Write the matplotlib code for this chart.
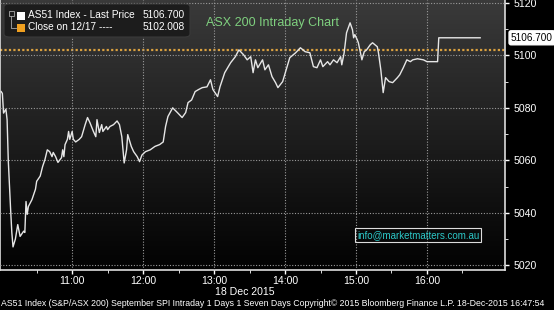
import numpy as np
import matplotlib.pyplot as plt
from matplotlib.patches import FancyBboxPatch, Rectangle
from matplotlib.lines import Line2D

# intraday prices, minutes after 10:00
mins = [0, 1, 2, 4, 5, 6, 8, 9, 10, 12, 14, 16, 19, 20, 21, 22, 23, 26, 29, 30,
        33, 35, 37, 39, 41, 43, 44, 46, 48, 51, 52, 53, 54, 56, 57, 58, 60, 61, 63, 66,
        68, 71, 73, 75, 78, 80, 81, 83, 85, 86, 89, 90, 92, 95, 98, 100, 102, 104, 106, 107,
        110, 112, 115, 117, 119, 122, 126, 130, 134, 137, 139, 141, 145, 149, 153, 156, 158, 161, 164, 167,
        170, 174, 177, 179, 183, 185, 189, 194, 198, 201, 205, 208, 211, 213, 215, 217, 221, 223, 226, 229,
        232, 234, 238, 241, 244, 249, 253, 257, 261, 264, 267, 270, 272, 276, 278, 281, 284, 287, 288, 290,
        292, 295, 297, 298, 299, 301, 302, 305, 307, 309, 312, 314, 318, 319, 321, 323, 325, 328, 331, 335,
        337, 340, 343, 346, 348, 352, 357, 360, 369, 370, 405]
price = [5086.2, 5085.5, 5078.0, 5079.5, 5075.5, 5060.0, 5041.0, 5032.5, 5027.0, 5030.0,
         5035.5, 5031.0, 5033.0, 5032.5, 5044.3, 5039.4, 5042.4, 5045.0, 5049.0, 5052.0,
         5054.0, 5057.6, 5060.3, 5064.0, 5063.3, 5061.4, 5063.0, 5061.4, 5059.2, 5061.0,
         5064.0, 5061.4, 5066.0, 5068.0, 5071.0, 5068.0, 5071.0, 5068.0, 5067.0, 5068.0,
         5069.0, 5073.6, 5076.3, 5074.4, 5071.0, 5069.0, 5075.5, 5070.6, 5073.6, 5071.0,
         5072.9, 5071.7, 5072.9, 5073.6, 5075.0, 5073.6, 5069.0, 5059.0, 5064.0, 5069.8,
         5065.3, 5063.3, 5061.4, 5059.5, 5062.0, 5063.3, 5064.0, 5065.3, 5066.0, 5067.0,
         5072.9, 5076.7, 5080.0, 5078.2, 5076.3, 5078.2, 5082.0, 5083.0, 5086.2, 5087.0,
         5087.7, 5088.0, 5090.7, 5087.0, 5084.3, 5088.0, 5093.4, 5097.2, 5099.5, 5102.1,
         5100.2, 5098.3, 5099.5, 5093.4, 5098.3, 5095.3, 5098.3, 5094.5, 5096.4, 5091.9,
         5089.6, 5087.7, 5090.0, 5094.5, 5099.1, 5101.0, 5102.9, 5101.4, 5101.0, 5095.7,
         5095.3, 5098.3, 5095.7, 5097.6, 5096.4, 5098.3, 5097.2, 5099.5, 5096.4, 5101.0,
         5108.6, 5112.4, 5109.8, 5106.7, 5107.9, 5106.0, 5104.8, 5098.3, 5101.4, 5102.1,
         5104.0, 5104.8, 5103.3, 5101.0, 5094.5, 5085.8, 5091.5, 5090.0, 5089.6, 5091.5,
         5092.6, 5095.3, 5098.3, 5097.6, 5098.3, 5098.7, 5098.3, 5097.6, 5097.6, 5106.7, 5106.7]
prev_close = 5102.008
last_price = 5106.700
hour_labels = ["11:00", "12:00", "13:00", "14:00", "15:00", "16:00"]
y_ticks = [5020, 5040, 5060, 5080, 5100, 5120]

W, H = 554, 310
def fx(px): return px / W
def fy(py): return 1 - py / H

plt.rcParams['font.family'] = ['Liberation Sans', 'DejaVu Sans']
fig = plt.figure(figsize=(W / 100, H / 100), dpi=100, facecolor='black')
ax = fig.add_axes([0, 40 / H, 505 / W, 270 / H])

# background gradient
grad = np.linspace(0, 1, 256).reshape(-1, 1)
ax.imshow(grad, extent=[0, 1, 0, 1], transform=ax.transAxes, aspect='auto',
          cmap=plt.matplotlib.colors.LinearSegmentedColormap.from_list('g', ['#3a3a3a', '#020202']),
          zorder=0)

ax.plot(mins, price, color='#e6e6e6', lw=1.0, zorder=3)
ax.axhline(prev_close, color='#d9a040', lw=1.6, ls=(0, (1, 1)), zorder=2)

ax.set_xlim(-1, 426)
ax.set_ylim(5018.2, 5121.1)
ax.set_xticks([60 * (i + 1) for i in range(len(hour_labels))])
ax.set_xticklabels(hour_labels)
ax.set_xticks(np.arange(30, 426, 60), minor=True)
ax.set_yticks(y_ticks)
ax.set_yticks([5030, 5050, 5070, 5090, 5110], minor=True)
ax.yaxis.tick_right()
ax.grid(True, which='major', color='#9a9a9a', lw=0.8, ls=(0, (1, 1.5)), zorder=1)
ax.set_axisbelow(False)
ax.tick_params(colors='white', labelsize=7.6, length=3, width=1)
ax.tick_params(which='minor', colors='white', length=2)
ax.tick_params(axis='x', pad=1.5)
ax.spines['top'].set_visible(False)
for s in ['right', 'bottom', 'left']:
    ax.spines[s].set_color('#dddddd')
    ax.spines[s].set_linewidth(1.2)

# last price box
ax.text(1.012, last_price, f"{last_price:.3f}", transform=ax.get_yaxis_transform(),
        fontsize=7.2, color='black', va='center', ha='left',
        bbox=dict(boxstyle='round,pad=0.2', fc='white', ec='white'), clip_on=False)

# legend box
fig.add_artist(FancyBboxPatch((fx(4), fy(37)), fx(186), 33 / H, boxstyle='round,pad=0,rounding_size=0.01',
                              fc='#1c1c1c', ec='#3a3a3a', lw=0.8, transform=fig.transFigure))
fig.add_artist(Rectangle((fx(8.5), fy(16)), fx(5), 5 / H, fc='none', ec='#aaaaaa', lw=0.6, transform=fig.transFigure))
fig.add_artist(Line2D([fx(11), fx(11), fx(16)], [fy(16), fy(28), fy(28)], color='#aaaaaa', lw=0.6, transform=fig.transFigure))
fig.add_artist(Rectangle((fx(17), fy(20)), fx(8), 8 / H, fc='white', ec='none', transform=fig.transFigure))
fig.add_artist(Rectangle((fx(17), fy(32)), fx(8), 8 / H, fc='#f0a020', ec='none', transform=fig.transFigure))
fig.text(fx(28), fy(15.5), "AS51 Index - Last Price", color='white', fontsize=7.3, va='center')
fig.text(fx(185), fy(15.5), f"{last_price:.3f}", color='white', fontsize=7.3, va='center', ha='right')
fig.text(fx(28), fy(27.5), "Close on 12/17 ----", color='white', fontsize=7.3, va='center')
fig.text(fx(185), fy(27.5), f"{prev_close:.3f}", color='white', fontsize=7.3, va='center', ha='right')

fig.text(fx(272), fy(23), "ASX 200 Intraday Chart", color='#7fd07f', fontsize=9, va='center', ha='center')

fig.text(fx(418), fy(235), "info@marketmatters.com.au", color='#2cc8c8', fontsize=7, va='center', ha='center',
         bbox=dict(boxstyle='square,pad=0.2', fc='none', ec='#dddddd', lw=0.8))

fig.text(fx(245), fy(292), "18 Dec 2015", color='white', fontsize=7.6, va='center', ha='center')
fig.text(fx(1), fy(303), "AS51 Index (S&P/ASX 200) September SPI Intraday 1 Days 1 Seven Days Copyright\u00a9 2015 "
         "Bloomberg Finance L.P. 18-Dec-2015 16:47:54", color='white', fontsize=6.3, va='center', ha='left')

fig.savefig('out.png', dpi=100, facecolor='black')
